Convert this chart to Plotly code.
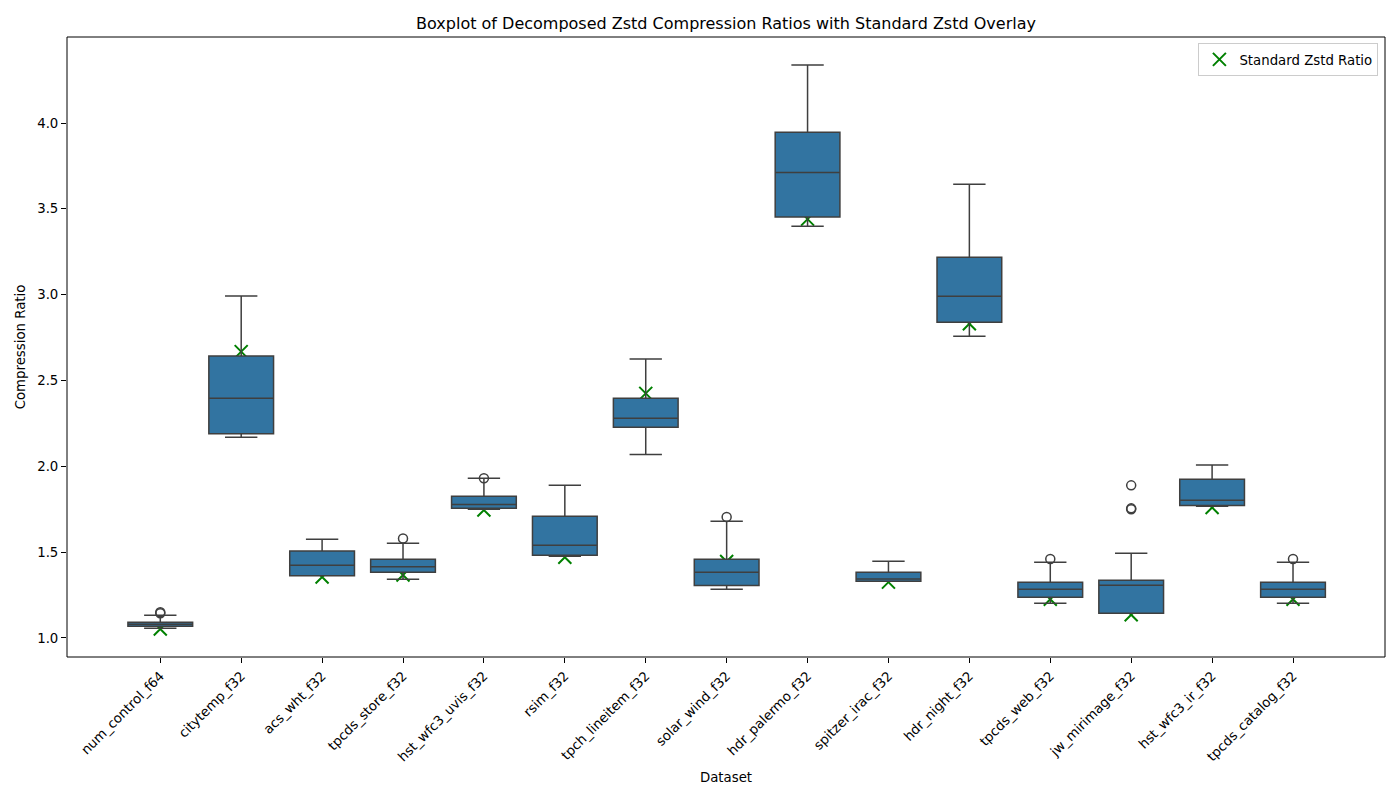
import plotly.graph_objects as go

# datasets on the x axis
datasets = [
    "num_control_f64", "citytemp_f32", "acs_wht_f32", "tpcds_store_f32",
    "hst_wfc3_uvis_f32", "rsim_f32", "tpch_lineitem_f32", "solar_wind_f32",
    "hdr_palermo_f32", "spitzer_irac_f32", "hdr_night_f32", "tpcds_web_f32",
    "jw_mirimage_f32", "hst_wfc3_ir_f32", "tpcds_catalog_f32",
]

# decomposed zstd box statistics
lower = [1.056, 2.169, 1.362, 1.342, 1.750, 1.476, 2.068, 1.284, 3.398, 1.330, 2.757, 1.202, 1.144, 1.767, 1.202]
q1 = [1.068, 2.190, 1.363, 1.383, 1.755, 1.482, 2.227, 1.305, 3.452, 1.330, 2.839, 1.237, 1.144, 1.771, 1.237]
median = [1.080, 2.396, 1.423, 1.415, 1.778, 1.540, 2.280, 1.383, 3.712, 1.344, 2.990, 1.284, 1.307, 1.802, 1.284]
q3 = [1.091, 2.643, 1.507, 1.458, 1.825, 1.709, 2.396, 1.458, 3.946, 1.383, 3.218, 1.324, 1.336, 1.924, 1.324]
upper = [1.132, 2.992, 1.575, 1.552, 1.930, 1.889, 2.625, 1.680, 4.338, 1.447, 3.643, 1.441, 1.493, 2.008, 1.441]

# outliers (dataset index, value)
outlier_idx = [0, 0, 3, 4, 7, 11, 12, 12, 12, 14]
outlier_val = [1.144, 1.150, 1.579, 1.930, 1.705, 1.460, 1.889, 1.750, 1.755, 1.460]

# standard zstd ratio per dataset
standard_ratio = [1.052, 2.668, 1.355, 1.367, 1.745, 1.470, 2.425, 1.445, 3.440, 1.325, 2.830, 1.225, 1.135, 1.760, 1.225]

positions = list(range(len(datasets)))
edge = "#3f3f3f"
fsize = 13.3

fig = go.Figure()

# crosses sit under the boxes (zorder), outliers on top
fig.add_trace(
    go.Scatter(
        x=positions,
        y=standard_ratio,
        mode="markers",
        name="Standard Zstd Ratio",
        marker=dict(symbol="x-thin", size=13, line=dict(color="green", width=2), color="green"),
        zorder=-1,
    )
)
fig.add_trace(
    go.Box(
        x=positions,
        q1=q1,
        median=median,
        q3=q3,
        lowerfence=lower,
        upperfence=upper,
        width=0.8,
        whiskerwidth=0.5,
        fillcolor="#3274a1",
        line=dict(color=edge, width=1.5),
        boxpoints=False,
        showlegend=False,
        hoverinfo="skip",
    )
)
fig.add_trace(
    go.Scatter(
        x=outlier_idx,
        y=outlier_val,
        mode="markers",
        marker=dict(symbol="circle-open", size=9, color=edge, line=dict(width=1.5, color=edge)),
        showlegend=False,
    )
)

# axis frame (the axis lines get lost once zorder layers are used)
fig.add_shape(
    type="rect", xref="paper", yref="paper", x0=0, y0=0, x1=1, y1=1,
    line=dict(color="black", width=1), layer="above",
)

fig.update_layout(
    width=1392,
    height=792,
    margin=dict(l=59, r=15, t=29, b=143),
    plot_bgcolor="rgba(0,0,0,0)",
    paper_bgcolor="white",
    font=dict(family="DejaVu Sans", size=fsize, color="black"),
    title=dict(
        text="Boxplot of Decomposed Zstd Compression Ratios with Standard Zstd Overlay",
        x=0.5, xref="paper", xanchor="center", y=0.98, yanchor="middle",
        font=dict(size=16),
    ),
    legend=dict(
        x=0.995, y=0.99, xanchor="right", yanchor="top",
        bordercolor="#cccccc", borderwidth=1, bgcolor="rgba(255,255,255,0.8)",
        font=dict(size=fsize), tracegroupgap=0,
    ),
    xaxis=dict(
        title=dict(text="Dataset", standoff=9, font=dict(size=fsize)),
        tickvals=positions,
        ticktext=datasets,
        tickangle=-45,
        tickfont=dict(size=fsize),
        range=[-1.153, 15.137],
        automargin=False,
        showgrid=False, zeroline=False,
        showline=True, linecolor="black", linewidth=1, mirror=True,
        ticks="outside", ticklen=5, tickcolor="black",
    ),
    yaxis=dict(
        title=dict(text="Compression Ratio", standoff=8, font=dict(size=fsize)),
        range=[0.889, 4.501],
        tickvals=[1.0, 1.5, 2.0, 2.5, 3.0, 3.5, 4.0],
        ticktext=["1.0", "1.5", "2.0", "2.5", "3.0", "3.5", "4.0"],
        tickfont=dict(size=fsize),
        automargin=False,
        showgrid=False, zeroline=False,
        showline=True, linecolor="black", linewidth=1, mirror=True,
        ticks="outside", ticklen=5, tickcolor="black",
    ),
)

fig.write_html("out.html")
